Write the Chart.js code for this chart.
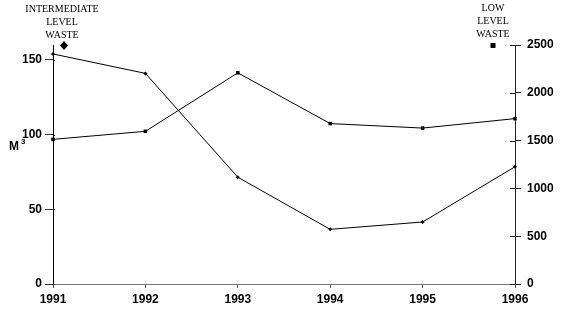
<!DOCTYPE html>
<html>
<head>
<meta charset="utf-8">
<script src="https://cdn.jsdelivr.net/npm/chart.js@4/dist/chart.umd.min.js"></script>
<style>
html,body{margin:0;padding:0;background:#fff;}
#wrap{position:relative;width:562px;height:311px;}
canvas{display:block;}
</style>
</head>
<body>
<div id="wrap"><canvas id="c" width="562" height="311"></canvas></div>
<script>
const years = ["1991","1992","1993","1994","1995","1996"];
const intermediateWaste = [154, 141, 71.5, 36.6, 41.5, 78.5];
const lowLevelWaste = [1513, 1597, 2209, 1678, 1631, 1730];
const leftTicks = [0, 50, 100, 150];
const rightTicks = [0, 500, 1000, 1500, 2000, 2500];
const leftLabel = "M";
const leftLabelSup = "3";
const legendLeft = ["INTERMEDIATE", "LEVEL", "WASTE"];
const legendRight = ["LOW", "LEVEL", "WASTE"];

const tickFont = {family: "'Liberation Sans', Arial, sans-serif", size: 12, weight: "bold"};

const decor = {
  id: 'decor',
  afterDraw(chart) {
    const ctx = chart.ctx;
    const area = chart.chartArea;
    ctx.save();
    ctx.fillStyle = '#000';
    ctx.font = "10px 'Liberation Serif', 'Times New Roman', serif";
    ctx.textAlign = 'center';
    ctx.textBaseline = 'middle';
    legendLeft.forEach((t, i) => ctx.fillText(t, 62, 9 + i * 13));
    legendRight.forEach((t, i) => ctx.fillText(t, 493, 8 + i * 13));
    ctx.beginPath();
    ctx.moveTo(64, 41); ctx.lineTo(68, 45.5); ctx.lineTo(64, 50); ctx.lineTo(60, 45.5); ctx.closePath();
    ctx.fill();
    ctx.fillRect(490.5, 43, 5, 5);
    ctx.textAlign = 'left';
    ctx.textBaseline = 'alphabetic';
    ctx.font = "bold 12px 'Liberation Sans', Arial, sans-serif";
    ctx.fillText(leftLabel, 9, 150);
    ctx.font = "bold 8px 'Liberation Sans', Arial, sans-serif";
    ctx.fillText(leftLabelSup, 21, 144);
    const ry = chart.scales.y2;
    ctx.strokeStyle = '#222';
    ctx.lineWidth = 1;
    rightTicks.forEach(v => {
      const y = Math.round(ry.getPixelForValue(v)) + 0.5;
      ctx.beginPath(); ctx.moveTo(area.right - 5, y); ctx.lineTo(area.right, y); ctx.stroke();
    });
    const ly = chart.scales.y;
    leftTicks.forEach(v => {
      const y = Math.round(ly.getPixelForValue(v)) + 0.5;
      ctx.beginPath(); ctx.moveTo(area.left, y); ctx.lineTo(area.left + 2, y); ctx.stroke();
    });
    ctx.restore();
  }
};

new Chart(document.getElementById('c'), {
  type: 'line',
  data: {
    labels: years,
    datasets: [
      {
        label: 'Intermediate level waste',
        data: intermediateWaste,
        yAxisID: 'y',
        borderColor: '#000',
        backgroundColor: '#000',
        borderWidth: 1,
        pointStyle: 'rectRot',
        pointRadius: 2,
        pointBorderWidth: 0,
        tension: 0,
        fill: false
      },
      {
        label: 'Low level waste',
        data: lowLevelWaste,
        yAxisID: 'y2',
        borderColor: '#000',
        backgroundColor: '#000',
        borderWidth: 1,
        pointStyle: 'rect',
        pointRadius: 2.5,
        pointBorderWidth: 0,
        tension: 0,
        fill: false
      }
    ]
  },
  options: {
    responsive: false,
    animation: false,
    layout: {padding: {top: 45, left: 0, right: 0, bottom: 0}},
    plugins: {legend: {display: false}, tooltip: {enabled: false}},
    scales: {
      x: {
        type: 'category',
        offset: false,
        grid: {drawOnChartArea: false, drawTicks: true, tickLength: 4, color: '#555'},
        border: {display: true, color: '#777', width: 1},
        ticks: {color: '#000', font: tickFont, padding: 4, maxRotation: 0, autoSkip: false},
        afterFit(s) { s.height = 27; }
      },
      y: {
        position: 'left',
        min: 0, max: 160,
        afterBuildTicks(s) { s.ticks = leftTicks.map(v => ({value: v})); },
        grid: {drawOnChartArea: false, drawTicks: true, tickLength: 8, color: '#333'},
        border: {display: true, color: '#000', width: 1},
        ticks: {color: '#000', font: tickFont, padding: 3, callback: v => String(v)},
        afterFit(s) { s.width = 53; }
      },
      y2: {
        position: 'right',
        min: 0, max: 2500,
        afterBuildTicks(s) { s.ticks = rightTicks.map(v => ({value: v})); },
        grid: {drawOnChartArea: false, drawTicks: true, tickLength: 6, color: '#222'},
        border: {display: true, color: '#222', width: 1},
        ticks: {color: '#000', font: tickFont, padding: 6, callback: v => String(v)},
        afterFit(s) { s.width = 47; }
      }
    }
  },
  plugins: [decor]
});
</script>
</body>
</html>
